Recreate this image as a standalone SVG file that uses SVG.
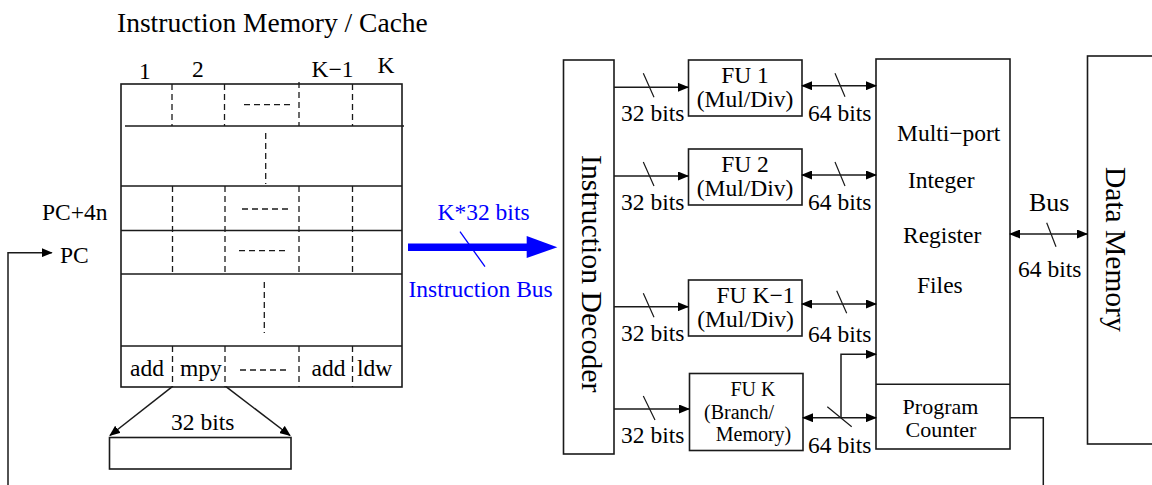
<svg xmlns="http://www.w3.org/2000/svg" width="1152" height="485" viewBox="0 0 1152 485">
<style>
text{font-family:"Liberation Serif","Times New Roman",serif;font-size:23.5px;fill:#000}
.sm{font-size:22px}
.fk{font-size:20px}
.box{fill:#fff;stroke:#1a1a1a;stroke-width:1.6}
.ln{fill:none;stroke:#1a1a1a;stroke-width:1.5}
.dash{fill:none;stroke:#1a1a1a;stroke-width:1.3;stroke-dasharray:6 4}
.blue{fill:#0000ff}
</style>
<defs>
<marker id="ah" markerUnits="userSpaceOnUse" markerWidth="11" markerHeight="9" refX="10" refY="4.5" orient="auto-start-reverse">
<path d="M0,0 L11,4.5 L0,9 Z" fill="#000"/>
</marker>
</defs>
<rect width="1152" height="485" fill="#fff"/>

<g id="title"><text x="117" y="32" style="font-size:27.5px">Instruction Memory / Cache</text></g>

<g id="instruction-memory">
<rect class="box" x="121" y="84" width="281" height="303"/>
<line class="ln" x1="125" y1="126" x2="404" y2="126"/>
<line class="ln" x1="121" y1="186" x2="402" y2="186"/>
<line class="ln" x1="121" y1="230.5" x2="402" y2="230.5"/>
<line class="ln" x1="121" y1="274" x2="402" y2="274"/>
<line class="ln" x1="121" y1="346" x2="402" y2="346"/>
<path class="dash" d="M172,84V126M224.5,84V126M299,82V126M352.5,84V126"/>
<path class="dash" d="M172.5,186V274M225,186V274M299,186V274M352.5,186V274"/>
<path class="dash" d="M172.5,346V387M225,346V387M299,346V387M352.5,346V387"/>
<path class="dash" d="M244,104.7H294M242,209H292M239,250.7H289M240,370H290"/>
<path class="dash" d="M265.7,133V184M264.3,282V333"/>
<text x="139" y="79">1</text>
<text x="192" y="77">2</text>
<text x="311.5" y="77">K−1</text>
<text x="377.5" y="73">K</text>
<text x="130" y="376">add</text>
<text x="180" y="376">mpy</text>
<text x="311.5" y="376">add</text>
<text x="357" y="376">ldw</text>
<text x="42" y="220">PC+4n</text>
<text x="60" y="263">PC</text>
</g>

<g id="word-box">
<rect class="box" x="109.5" y="437.5" width="181.5" height="31.5"/>
<text x="171" y="430">32 bits</text>
</g>

<g id="instruction-decoder">
<rect class="box" x="563.5" y="60" width="50.5" height="394"/>
<text transform="translate(582,155) rotate(90)" style="font-size:29.8px">Instruction Decoder</text>
</g>

<g id="fu1">
<rect class="box" x="688.5" y="60" width="113.5" height="56"/>
<text x="745" y="83" text-anchor="middle">FU 1</text>
<text x="745" y="107" text-anchor="middle">(Mul/Div)</text>
</g>
<g id="fu2">
<rect class="box" x="688.5" y="149" width="113.5" height="56"/>
<text x="745" y="172" text-anchor="middle">FU 2</text>
<text x="745" y="196" text-anchor="middle">(Mul/Div)</text>
</g>
<g id="fuk1">
<rect class="box" x="688.5" y="280" width="113.5" height="56"/>
<text x="716.5" y="302.7">FU K−1</text>
<text x="745.5" y="326.7" text-anchor="middle">(Mul/Div)</text>
</g>
<g id="fuk">
<rect class="box" x="689.5" y="373.5" width="113.5" height="77"/>
<text class="fk" x="753" y="396" text-anchor="middle">FU K</text>
<text class="fk" x="739" y="418.5" text-anchor="middle">(Branch/</text>
<text class="fk" x="753.5" y="441" text-anchor="middle">Memory)</text>
</g>

<g id="register-file">
<rect class="box" x="876" y="59" width="134" height="390"/>
<line class="ln" x1="876" y1="384.3" x2="1010" y2="384.3"/>
<text x="897" y="141">Multi−port</text>
<text x="908" y="188">Integer</text>
<text x="903" y="243">Register</text>
<text x="917" y="293">Files</text>
<text class="sm" x="940.5" y="414" text-anchor="middle">Program</text>
<text class="sm" x="941" y="437" text-anchor="middle">Counter</text>
</g>

<g id="data-memory">
<rect class="box" x="1087.5" y="56" width="80" height="388"/>
<text transform="translate(1106,167) rotate(90)" style="font-size:29.5px">Data Memory</text>
</g>

<g id="connectors">
<line class="ln" x1="614" y1="87.3" x2="688" y2="87.3" marker-end="url(#ah)"/>
<line class="ln" x1="614" y1="176" x2="688" y2="176" marker-end="url(#ah)"/>
<line class="ln" x1="614" y1="306.7" x2="688" y2="306.7" marker-end="url(#ah)"/>
<line class="ln" x1="614" y1="409" x2="689" y2="409" marker-end="url(#ah)"/>
<path class="ln" style="stroke-width:1.2" d="M643.3,73.3L654,97.3M643.3,162L654,186M643.3,293.3L654,317.3M643.3,396L655,420"/>
<text x="621" y="121">32 bits</text>
<text x="621" y="210">32 bits</text>
<text x="621" y="341">32 bits</text>
<text x="621" y="443">32 bits</text>
<line class="ln" x1="802" y1="85.7" x2="876" y2="85.7" marker-start="url(#ah)" marker-end="url(#ah)"/>
<line class="ln" x1="802" y1="175" x2="876" y2="175" marker-start="url(#ah)" marker-end="url(#ah)"/>
<line class="ln" x1="802" y1="304" x2="876" y2="304" marker-start="url(#ah)" marker-end="url(#ah)"/>
<line class="ln" x1="803" y1="417.7" x2="876" y2="417.7" marker-start="url(#ah)" marker-end="url(#ah)"/>
<polyline class="ln" points="841,417.7 841,354.3 876,354.3" marker-end="url(#ah)"/>
<path class="ln" style="stroke-width:1.2" d="M835,73.3L845,96.7M835,162L845,186M836.7,290.7L846.7,313.3M827.3,406.7L851.7,426.7"/>
<text x="808" y="121">64 bits</text>
<text x="808" y="210">64 bits</text>
<text x="808" y="342">64 bits</text>
<text x="808" y="453">64 bits</text>
<line class="ln" x1="1010" y1="234" x2="1087" y2="234" marker-start="url(#ah)" marker-end="url(#ah)"/>
<path class="ln" style="stroke-width:1.2" d="M1046.7,222.7L1056,246.7"/>
<text x="1029" y="211" style="font-size:26px">Bus</text>
<text x="1018" y="277">64 bits</text>
<polyline class="ln" points="1010,417.7 1043.3,417.7 1043.3,485"/>
<polyline class="ln" points="8,485 8,252.7 51.7,252.7" marker-end="url(#ah)"/>
<line class="ln" x1="172.3" y1="386.7" x2="110" y2="435.5" marker-end="url(#ah)"/>
<line class="ln" x1="226" y1="386.7" x2="290" y2="435.5" marker-end="url(#ah)"/>
<line x1="408" y1="247.3" x2="528" y2="247.3" stroke="#0000ff" stroke-width="7.5"/>
<polygon class="blue" points="526.7,236 557.3,247.3 526.7,258"/>
<line x1="460" y1="231.7" x2="485" y2="266.7" stroke="#0000ff" stroke-width="1.3"/>
<text x="437.5" y="220" class="blue">K*32 bits</text>
<text x="408.5" y="297.3" class="blue">Instruction Bus</text>
</g>
</svg>
